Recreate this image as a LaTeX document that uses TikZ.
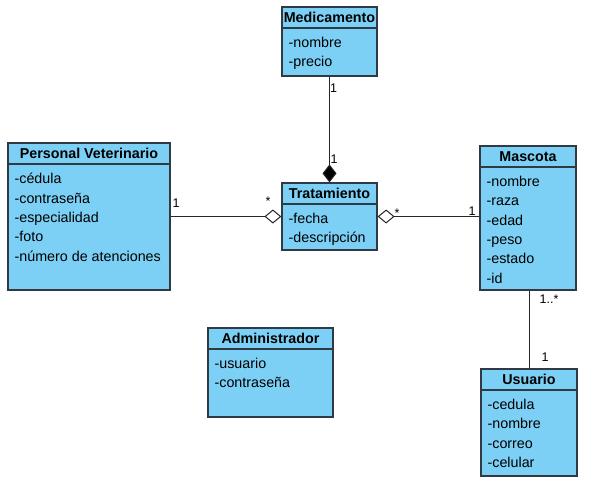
\documentclass[tikz,border=0pt]{standalone}
\usepackage{fontspec}
\setmainfont{Liberation Sans}
\usepackage{tikz}
\usetikzlibrary{shapes, arrows.meta, positioning}

\definecolor{clasefondo}{HTML}{7DD0F5}
\definecolor{claseborde}{HTML}{2F3A44}

\tikzset{
  clase/.style={draw=claseborde, fill=clasefondo, line width=1.2pt, inner sep=0pt},
  cabecera/.style={draw=claseborde, fill=clasefondo, line width=1.2pt, inner sep=0pt,
    minimum height=21pt, font=\fontsize{14.3}{16}\selectfont\bfseries},
  atributos/.style={align=left, inner xsep=7pt, inner ysep=8.5pt,
    font=\fontsize{14.3}{19.3}\selectfont},
  multi/.style={inner sep=0pt, font=\fontsize{12.5}{14}\selectfont},
  rel/.style={draw=black!85, line width=1pt},
}

\begin{document}
\begin{tikzpicture}[x=1pt, y=-1pt]
\useasboundingbox (0,0) rectangle (589,487);

% clases
\node[clase, minimum width=95pt, minimum height=69pt] (med) at (329.5,41.5) {};
\node[cabecera, minimum width=95pt, anchor=north] (medH) at (med.north) {Medicamento};
\node[atributos, anchor=north west] at (medH.south west) {-nombre\\-precio};

\node[clase, minimum width=95pt, minimum height=67pt] (trat) at (329.5,216.5) {};
\node[cabecera, minimum width=95pt, anchor=north] (tratH) at (trat.north) {Tratamiento};
\node[atributos, anchor=north west] at (tratH.south west) {-fecha\\-descripción};

\node[clase, minimum width=162pt, minimum height=147pt] (pv) at (89,216.5) {};
\node[cabecera, minimum width=162pt, anchor=north] (pvH) at (pv.north) {Personal Veterinario};
\node[atributos, anchor=north west] at (pvH.south west)
  {-cédula\\-contraseña\\-especialidad\\-foto\\-número de atenciones};

\node[clase, minimum width=96pt, minimum height=144pt] (masc) at (528,218) {};
\node[cabecera, minimum width=96pt, anchor=north] (mascH) at (masc.north) {Mascota};
\node[atributos, anchor=north west] at (mascH.south west)
  {-nombre\\-raza\\-edad\\-peso\\-estado\\-id};

\node[clase, minimum width=96pt, minimum height=107pt] (usu) at (529,422.5) {};
\node[cabecera, minimum width=96pt, anchor=north] (usuH) at (usu.north) {Usuario};
\node[atributos, anchor=north west] at (usuH.south west)
  {-cedula\\-nombre\\-correo\\-celular};

\node[clase, minimum width=125pt, minimum height=89pt] (adm) at (270.5,372.5) {};
\node[cabecera, minimum width=125pt, anchor=north] (admH) at (adm.north) {Administrador};
\node[atributos, anchor=north west] at (admH.south west) {-usuario\\-contraseña};

% relaciones
\draw[rel, -{Diamond[fill=black, length=18pt, width=14pt]}] (med.south) -- (trat.north);
\draw[rel, -{Diamond[open, fill=white, length=17pt, width=14pt]}] (pv.east) -- (trat.west |- pv.east);
\draw[rel, {Diamond[open, fill=white, length=17pt, width=14pt]}-] (trat.east) -- (masc.west |- trat.east);
\draw[rel] (masc.south -| usu.north) -- (usu.north);

% multiplicidades
\node[multi] (m1) at (333.5,88) {1};
\node[multi] (m2) at (334,159) {1};
\node[multi] (m3) at (176,203) {1};
\node[multi] (m4) at (268,201) {*};
\node[multi] (m5) at (397,213) {*};
\node[multi] (m6) at (472,211) {1};
\node[multi] (m7) at (549,299) {1..*};
\node[multi] (m8) at (545,357) {1};
\end{tikzpicture}
\end{document}
